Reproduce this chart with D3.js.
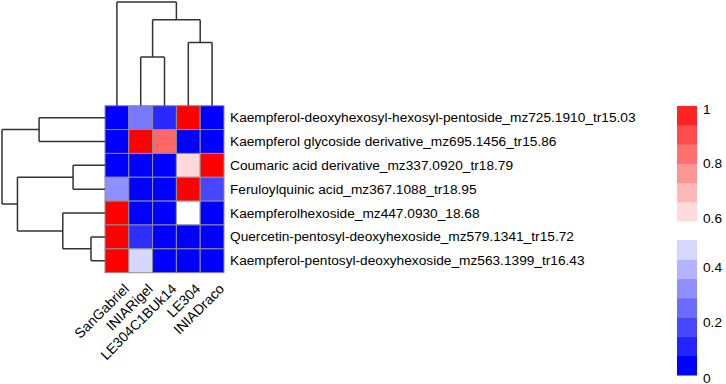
<!DOCTYPE html>
<html><head><meta charset="utf-8">
<script src="https://cdn.jsdelivr.net/npm/d3@7"></script>
<style>body{margin:0;background:#fff;}svg{display:block;font-family:"Liberation Sans",Arial,sans-serif;}</style>
</head><body>
<svg id="chart" width="726" height="384"></svg>
<script>
// ---- data ----
const columns = ["SanGabriel","INIARigel","LE304C1BUk14","LE304","INIADraco"];
const rows = [
  "Kaempferol-deoxyhexosyl-hexosyl-pentoside_mz725.1910_tr15.03",
  "Kaempferol glycoside derivative_mz695.1456_tr15.86",
  "Coumaric acid derivative_mz337.0920_tr18.79",
  "Feruloylquinic acid_mz367.1088_tr18.95",
  "Kaempferolhexoside_mz447.0930_18.68",
  "Quercetin-pentosyl-deoxyhexoside_mz579.1341_tr15.72",
  "Kaempferol-pentosyl-deoxyhexoside_mz563.1399_tr16.43"
];
const values = [
  [0, 0.235, 0.08, 1, 0],
  [0, 1, 0.80, 0, 0],
  [0, 0, 0, 0.575, 1],
  [0.28, 0, 0, 1, 0.14],
  [1, 0, 0, 0.5, 0],
  [1, 0.09, 0, 0, 0],
  [1, 0.42, 0, 0, 0]
];
// hclust-style merges (negative = leaf index, positive = merge step)
const colMerge = [[-2,-3],[-4,-5],[1,2],[-1,3]];
const colHeight = [0.47, 0.61, 0.83, 1.0];
const rowMerge = [[-6,-7],[-3,-4],[-5,1],[-1,-2],[2,3],[4,5]];
const rowHeight = [0.136, 0.31, 0.41, 0.64, 0.85, 1.0];
const legendTicks = [0, 0.2, 0.4, 0.6, 0.8, 1];
const blueBands = [0, 0.07, 0.14, 0.21, 0.28, 0.35, 0.42];
const redBands = [0.57, 0.64, 0.71, 0.78, 0.85, 0.93];

// ---- drawing ----
const svg = d3.select("#chart");
const hm = {x0:105, x1:224, y0:105.7, y1:272.7};
const x = d3.scaleBand().domain(columns).range([hm.x0, hm.x1]);
const y = d3.scaleBand().domain(rows).range([hm.y0, hm.y1]);
const color = d3.scaleLinear().domain([0,0.5,1]).range(["#0000ff","#ffffff","#ff0000"]).clamp(true);

const cells = [];
values.forEach((r,i)=>r.forEach((v,j)=>cells.push({row:rows[i],col:columns[j],v})));
svg.append("g").selectAll("rect").data(cells).join("rect")
  .attr("x",d=>x(d.col)).attr("y",d=>y(d.row))
  .attr("width",x.bandwidth()).attr("height",y.bandwidth())
  .attr("fill",d=>color(d.v)).attr("stroke","#8f8f8f").attr("stroke-width",1);

// row labels
svg.append("g").selectAll("text").data(rows).join("text")
  .attr("x",hm.x1+6).attr("y",d=>y(d)+y.bandwidth()/2)
  .attr("dominant-baseline","central").attr("font-size",13.7).attr("fill","#000")
  .text(d=>d);

// column labels
svg.append("g").selectAll("text").data(columns).join("text")
  .attr("transform",d=>`translate(${x(d)+x.bandwidth()/2+13},${hm.y1+17}) rotate(-45)`)
  .attr("text-anchor","end")
  .attr("font-size",14).attr("fill","#000").text(d=>d);

// dendrogram helper
function dendro(merge, heights, leafPos, hScale, vertical){
  const nodes = [];
  const pos = m => m < 0 ? {p:leafPos(-m-1), h:0} : nodes[m-1];
  const segs = [];
  merge.forEach((m,i)=>{
    const a = pos(m[0]), b = pos(m[1]), h = heights[i];
    segs.push([a.p,a.h,a.p,h],[a.p,h,b.p,h],[b.p,h,b.p,b.h]);
    nodes.push({p:(a.p+b.p)/2, h});
  });
  const line = s => vertical
    ? `M${s[0]},${hScale(s[1])}L${s[2]},${hScale(s[3])}`
    : `M${hScale(s[1])},${s[0]}L${hScale(s[3])},${s[2]}`;
  return segs.map(line).join("");
}
const colH = d3.scaleLinear().domain([0,1]).range([hm.y0,2]);
svg.append("path")
  .attr("d",dendro(colMerge,colHeight,i=>x(columns[i])+x.bandwidth()/2,colH,true))
  .attr("fill","none").attr("stroke","#333").attr("stroke-width",1.5);
const rowH = d3.scaleLinear().domain([0,1]).range([hm.x0,2]);
svg.append("path")
  .attr("d",dendro(rowMerge,rowHeight,i=>y(rows[i])+y.bandwidth()/2,rowH,false))
  .attr("fill","none").attr("stroke","#333").attr("stroke-width",1.5);

// legend
const lx = 677, lw = 20;
const yRed = d3.scaleLinear().domain([0.58,1]).range([221,106]);
const yBlue = d3.scaleLinear().domain([0,0.49]).range([375,240]);
const bandStep = 0.07;
svg.append("g").selectAll("rect").data(redBands).join("rect")
  .attr("x",lx).attr("width",lw)
  .attr("y",(d,i)=>yRed(0.58+(i+1)*bandStep)).attr("height",(d,i)=>yRed(0.58+i*bandStep)-yRed(0.58+(i+1)*bandStep)+0.5)
  .attr("fill",d=>color(d));
svg.append("g").selectAll("rect").data(blueBands).join("rect")
  .attr("x",lx).attr("width",lw)
  .attr("y",(d,i)=>yBlue((i+1)*bandStep)).attr("height",(d,i)=>yBlue(i*bandStep)-yBlue((i+1)*bandStep)+0.5)
  .attr("fill",d=>color(d));
svg.append("g").selectAll("text").data(legendTicks).join("text")
  .attr("x",lx+lw+6).attr("y",d=>(d>=0.5?yRed(d):yBlue(d))+3)
  .attr("dominant-baseline","central").attr("font-size",13.7).attr("fill","#000")
  .text(d=>d);
</script>
</body></html>
